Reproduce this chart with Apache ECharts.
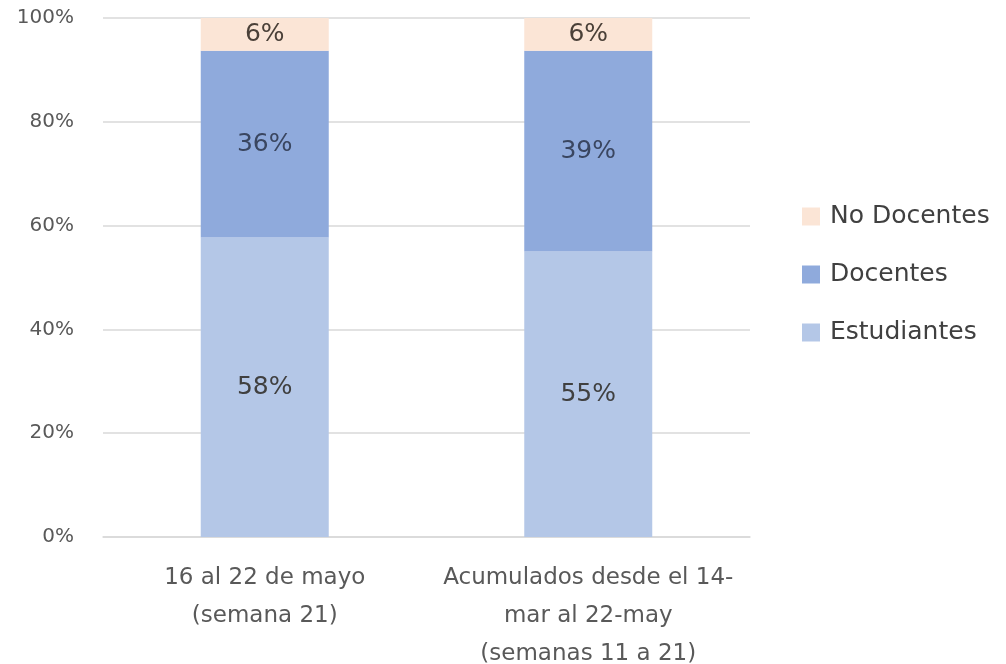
<!DOCTYPE html>
<html>
<head>
<meta charset="utf-8">
<script src="https://cdn.jsdelivr.net/npm/echarts@6/dist/echarts.min.js"></script>
<style>html,body{margin:0;padding:0;background:#fff}#c{width:1006px;height:664px}</style>
</head>
<body>
<div id="c"></div>
<script>
var categories = ['16 al 22 de mayo\n(semana 21)', 'Acumulados desde el 14-\nmar al 22-may\n(semanas 11 a 21)'];
var estudiantes = [57.7, 55.0];
var docentes = [36.0, 38.7];
var noDocentes = [6.3, 6.3];
var yTicks = [0, 20, 40, 60, 80, 100];

var font = '"DejaVu Sans", sans-serif';
var chart = echarts.init(document.getElementById('c'), null, {renderer: 'canvas'});
function lbl(color) {
  return {show: true, position: 'inside', color: color, fontSize: 25, fontFamily: font,
    formatter: function (p) { return Math.round(p.value) + '%'; }};
}
chart.setOption({
  animation: false,
  grid: {left: 103, right: 256, top: 18, bottom: 127, containLabel: false, outerBoundsMode: 'none'},
  legend: {
    orient: 'vertical', left: 802, top: 204, padding: 0, itemWidth: 18, itemHeight: 18, itemGap: 33,
    icon: 'rect',
    data: ['No Docentes', 'Docentes', 'Estudiantes'],
    textStyle: {fontSize: 25, color: '#404040', fontFamily: font, padding: [0, 0, 0, 5]}
  },
  xAxis: {
    type: 'category', data: categories,
    axisLine: {lineStyle: {color: '#d9d9d9', width: 1.5}},
    axisTick: {show: false},
    axisLabel: {interval: 0, color: '#595959', fontSize: 23, fontFamily: font, lineHeight: 38, margin: 22}
  },
  yAxis: {
    type: 'value', min: 0, max: 100, interval: 20,
    axisLine: {show: false}, axisTick: {show: false},
    splitLine: {lineStyle: {color: '#d9d9d9', width: 1.5}},
    axisLabel: {color: '#595959', fontSize: 20, fontFamily: font, margin: 29,
      formatter: function (v) { return yTicks.indexOf(v) >= 0 ? v + '%' : ''; }}
  },
  series: [
    {name: 'Estudiantes', type: 'bar', stack: 't', data: estudiantes, barWidth: 128,
      itemStyle: {color: '#B4C7E7'}, label: lbl('#404040')},
    {name: 'Docentes', type: 'bar', stack: 't', data: docentes, barWidth: 128,
      itemStyle: {color: '#8FAADC'}, label: lbl('#3A4660')},
    {name: 'No Docentes', type: 'bar', stack: 't', data: noDocentes, barWidth: 128,
      itemStyle: {color: '#FBE5D6'}, label: lbl('#4a4038')}
  ]
});
</script>
</body>
</html>
